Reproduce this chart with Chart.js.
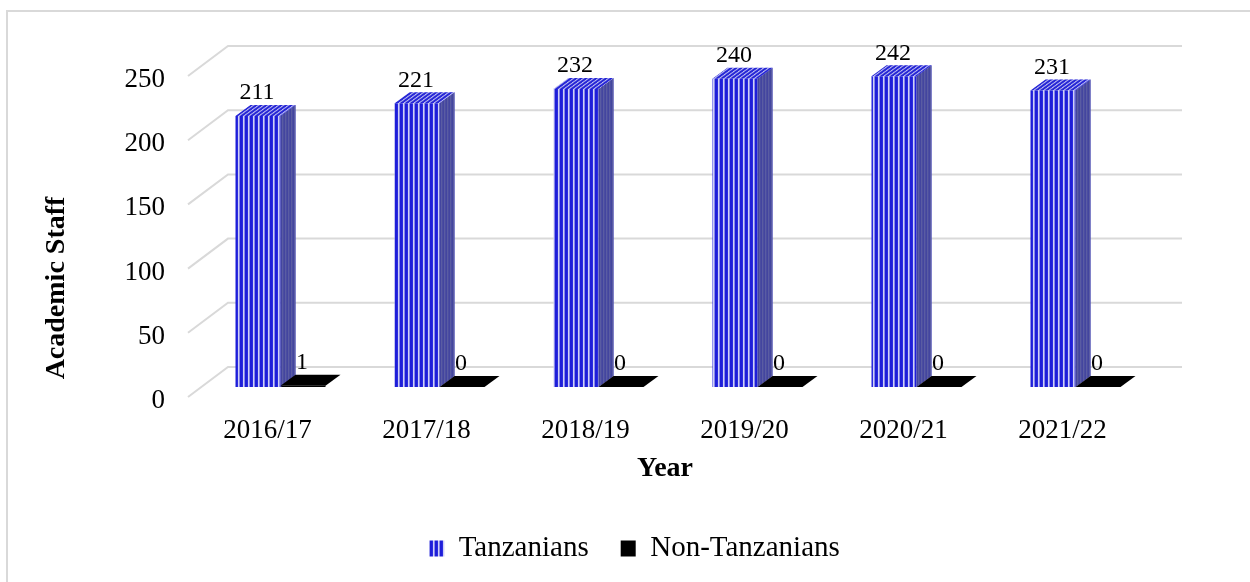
<!DOCTYPE html>
<html>
<head>
<meta charset="utf-8">
<script src="https://cdn.jsdelivr.net/npm/chart.js@4.4.1/dist/chart.umd.min.js"></script>
<style>
    html, body { margin: 0; padding: 0; background: #fff; }
</style>
</head>
<body>
<canvas id="staffChart" width="1250" height="582"></canvas>
<script>
const years = ['2016/17', '2017/18', '2018/19', '2019/20', '2020/21', '2021/22'];
const tanzanians = [211, 221, 232, 240, 242, 231];
const nonTanzanians = [1, 0, 0, 0, 0, 0];
const yTicks = [0, 50, 100, 150, 200, 250];

const FONT = "'Liberation Serif', 'Times New Roman', serif";
// depth of a bar, and where the back wall / front edge sit relative to the bar plane
const DEPTH_X = 15, DEPTH_Y = -11;
const BACK_X = 27, BACK_Y = -20;
const FRONT_X = -13, FRONT_Y = 10;

const canvas = document.getElementById('staffChart');
const ctx = canvas.getContext('2d');

function makeStripeTile() {
    const c = document.createElement('canvas');
    c.width = 5;
    c.height = 1;
    const g = c.getContext('2d');
    const cols = ['#1e1ed8', '#1e1ed8', '#2b2bdf', '#cfd0f7', '#8a8aea'];
    cols.forEach((col, i) => {
        g.fillStyle = col;
        g.fillRect(i, 0, 1, 1);
    });
    return c;
}
const stripeTile = makeStripeTile();
const stripes = ctx.createPattern(stripeTile, 'repeat');

const threeD = {
    id: 'threeD',
    beforeDraw(chart) {
        const c = chart.ctx;
        c.save();
        // outer frame (only top and left show in the picture)
        c.strokeStyle = '#d9d9d9';
        c.lineWidth = 2;
        c.beginPath();
        c.moveTo(7, 582);
        c.lineTo(7, 11);
        c.lineTo(1250, 11);
        c.stroke();
        c.restore();
    },
    beforeDatasetsDraw(chart) {
        const c = chart.ctx;
        const area = chart.chartArea;
        const y = chart.scales.y;
        c.save();
        c.strokeStyle = '#d9d9d9';
        c.lineWidth = 2;
        yTicks.forEach(v => {
            const py = y.getPixelForValue(v);
            c.beginPath();
            c.moveTo(area.left + FRONT_X, py + FRONT_Y);
            c.lineTo(area.left + BACK_X, py + BACK_Y);
            c.lineTo(area.right + BACK_X, py + BACK_Y);
            c.stroke();
        });

        // axis titles
        c.fillStyle = '#000';
        c.font = 'bold 28px ' + FONT;
        c.textAlign = 'center';
        c.textBaseline = 'middle';
        c.fillText('Year', 665, 469);
        c.translate(57, 288);
        c.rotate(-Math.PI / 2);
        c.fillText('Academic Staff', 0, 0);
        c.restore();
    },
    afterDatasetsDraw(chart) {
        const c = chart.ctx;
        const blueBars = chart.getDatasetMeta(0).data;
        const blackBars = chart.getDatasetMeta(1).data;
        c.save();

        blueBars.forEach(bar => {
            const x0 = bar.x - bar.width / 2;
            const x1 = bar.x + bar.width / 2;
            const top = bar.y;
            const base = bar.base;

            // side face
            c.beginPath();
            c.moveTo(x1, top);
            c.lineTo(x1 + DEPTH_X, top + DEPTH_Y);
            c.lineTo(x1 + DEPTH_X, base + DEPTH_Y);
            c.lineTo(x1, base);
            c.closePath();
            const side = c.createPattern(stripeTile, 'repeat');
            side.setTransform(new DOMMatrix([0.6, 0, 0, 1, x1, 0]));
            c.fillStyle = side;
            c.fill();
            c.fillStyle = 'rgba(74, 76, 148, 0.85)';
            c.fill();

            // top face, stripes sheared along the depth
            c.beginPath();
            c.moveTo(x0, top);
            c.lineTo(x1, top);
            c.lineTo(x1 + DEPTH_X, top + DEPTH_Y);
            c.lineTo(x0 + DEPTH_X, top + DEPTH_Y);
            c.closePath();
            const lid = c.createPattern(stripeTile, 'repeat');
            const k = DEPTH_X / DEPTH_Y;
            lid.setTransform(new DOMMatrix([1, 0, k, 1, -k * top, 0]));
            c.fillStyle = lid;
            c.fill();
            c.fillStyle = 'rgba(90, 90, 200, 0.15)';
            c.fill();
        });

        blackBars.forEach(bar => {
            const x0 = bar.x - bar.width / 2;
            const x1 = bar.x + bar.width / 2;
            const top = bar.y;
            c.beginPath();
            c.moveTo(x0, top);
            c.lineTo(x1, top);
            c.lineTo(x1 + DEPTH_X, top + DEPTH_Y);
            c.lineTo(x0 + DEPTH_X, top + DEPTH_Y);
            c.closePath();
            c.fillStyle = '#000';
            c.fill();
        });

        // data labels
        c.fillStyle = '#000';
        c.font = '24px ' + FONT;
        c.textAlign = 'center';
        c.textBaseline = 'middle';
        blueBars.forEach((bar, i) => c.fillText(String(tanzanians[i]), bar.x - 1, bar.y - 23));
        blackBars.forEach((bar, i) => c.fillText(String(nonTanzanians[i]), bar.x - 1, bar.y - 23));
        c.restore();
    }
};

new Chart(ctx, {
    type: 'bar',
    data: {
        labels: years,
        datasets: [
            {
                label: 'Tanzanians',
                data: tanzanians,
                backgroundColor: stripes,
                borderWidth: 0
            },
            {
                label: 'Non-Tanzanians',
                data: nonTanzanians,
                backgroundColor: '#000',
                borderWidth: 0
            }
        ]
    },
    options: {
        responsive: false,
        animation: false,
        layout: {
            padding: { left: 114, right: 95, top: 66, bottom: 9 }
        },
        datasets: {
            bar: { categoryPercentage: 90 / 159, barPercentage: 1 }
        },
        scales: {
            x: {
                grid: { display: false, drawTicks: false },
                border: { display: false },
                ticks: {
                    font: { family: FONT, size: 27 },
                    color: '#000',
                    labelOffset: FRONT_X,
                    padding: 28,
                    maxRotation: 0
                },
                afterFit(scale) { scale.height = 115; }
            },
            y: {
                min: 0,
                max: 250,
                grid: { display: false, drawTicks: false },
                border: { display: false },
                ticks: {
                    stepSize: 50,
                    font: { family: FONT, size: 27 },
                    color: '#000',
                    labelOffset: FRONT_Y + 4,
                    padding: 36
                },
                afterFit(scale) { scale.width = 87; }
            }
        },
        plugins: {
            legend: {
                position: 'bottom',
                labels: {
                    font: { family: FONT, size: 29 },
                    color: '#000',
                    boxWidth: 15,
                    boxHeight: 16,
                    padding: 32
                }
            },
            tooltip: { enabled: false }
        }
    },
    plugins: [threeD]
});
</script>
</body>
</html>
